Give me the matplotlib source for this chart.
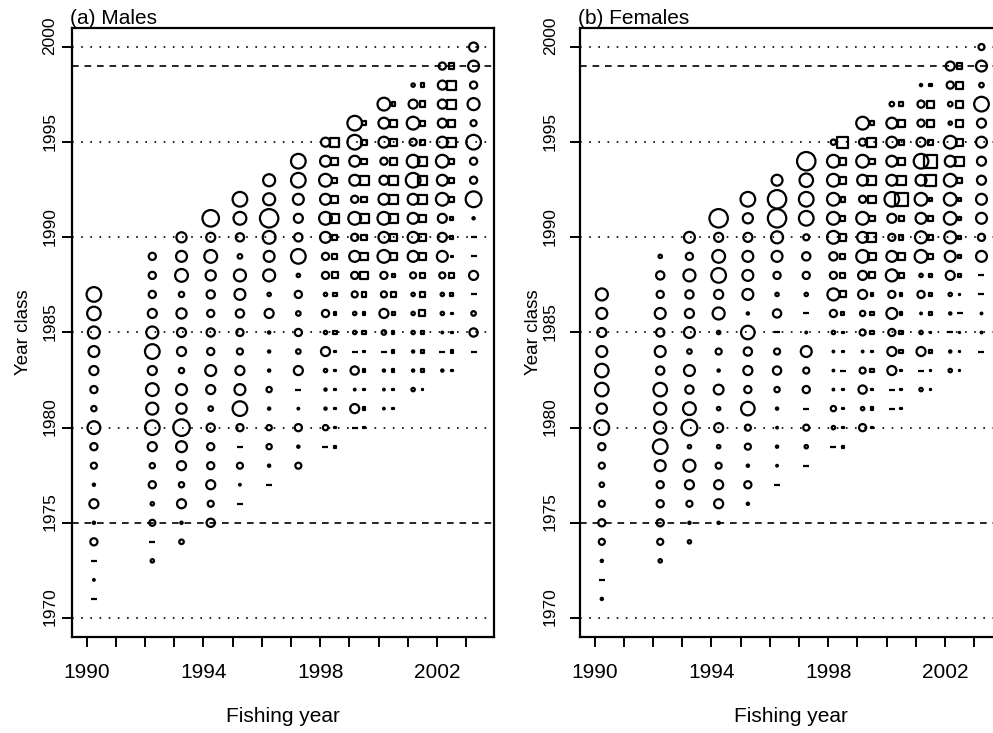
import numpy as np
import matplotlib
matplotlib.use("Agg")
import matplotlib.pyplot as plt
from matplotlib.ticker import FixedLocator, MultipleLocator
from matplotlib.transforms import ScaledTranslation

plt.rcParams["font.family"] = ["Liberation Sans", "DejaVu Sans"]

# each list runs over year classes (fishing year - 19) .. (fishing year - 3)
# values are relative symbol sizes; 1 = trace (drawn as a dash)

# Males, main sample (circles)
m_1990 = [1, 10, 1, 25, 12, 30, 12, 22, 25, 40, 20, 25, 30, 35, 38, 42, 45]
m_1992 = [15, 1, 22, 15, 25, 20, 30, 45, 38, 40, 30, 45, 38, 30, 25, 25, 25]
m_1993 = [18, 12, 30, 20, 30, 35, 50, 33, 35, 20, 30, 30, 33, 20, 40, 35, 33]
m_1994 = [28, 22, 30, 25, 25, 28, 18, 30, 35, 25, 28, 25, 28, 33, 40, 30, 50]
m_1995 = [1, 10, 22, 1, 25, 45, 35, 30, 22, 25, 28, 35, 38, 18, 28, 40, 45]
m_1996 = [1, 12, 20, 20, 12, 20, 12, 12, 12, 30, 15, 38, 35, 40, 55, 38, 38]
m_1997 = [22, 12, 25, 10, 1, 30, 18, 25, 18, 25, 15, 45, 28, 30, 35, 45, 45]
m_1998 = [1, 20, 12, 12, 15, 30, 15, 25, 15, 25, 25, 35, 40, 35, 40, 35, 30]
m_1999 = [1, 30, 10, 28, 1, 15, 15, 22, 25, 35, 25, 40, 25, 35, 35, 45, 45]
m_2000 = [10, 10, 12, 1, 18, 30, 22, 25, 40, 35, 40, 35, 30, 25, 35, 35, 40]
m_2001 = [15, 12, 12, 15, 15, 15, 22, 35, 35, 35, 35, 45, 40, 25, 40, 30, 15]
m_2002 = [12, 1, 10, 15, 15, 22, 35, 30, 30, 40, 35, 40, 35, 30, 30, 30, 25]
m_2003 = [1, 28, 18, 1, 30, 1, 1, 12, 48, 25, 25, 45, 22, 38, 25, 35, 30]

# Males, second sample (squares)
ms_1998 = [5, 5, 10, 10, 10, 10, 15, 12, 15, 22, 20, 20, 30, 25, 20, 25, 30]
ms_1999 = [10, 12, 10, 12, 10, 15, 12, 18, 25, 25, 20, 30, 20, 30, 20, 20, 15]
ms_2000 = [10, 10, 12, 12, 12, 15, 18, 15, 25, 25, 30, 30, 30, 25, 25, 25, 15]
ms_2001 = [10, 12, 12, 15, 22, 20, 18, 25, 25, 25, 30, 30, 30, 20, 20, 20, 15]
ms_2002 = [10, 12, 8, 8, 15, 18, 8, 15, 15, 20, 20, 20, 30, 25, 30, 30, 20]

# Females, main sample (circles)
f_1990 = [12, 1, 12, 22, 25, 22, 18, 22, 25, 45, 33, 42, 42, 35, 30, 35, 38]
f_1992 = [15, 22, 25, 25, 25, 35, 45, 38, 38, 42, 28, 35, 28, 35, 25, 28, 15]
f_1993 = [15, 12, 22, 30, 38, 15, 48, 40, 28, 35, 18, 35, 30, 28, 38, 25, 35]
f_1994 = [12, 30, 30, 22, 15, 30, 15, 32, 12, 22, 15, 38, 30, 45, 40, 30, 55]
f_1995 = [12, 25, 12, 22, 22, 42, 25, 30, 28, 42, 12, 35, 35, 35, 30, 33, 45]
f_1996 = [1, 10, 12, 8, 12, 20, 28, 22, 1, 28, 15, 25, 35, 38, 55, 55, 35]
f_1997 = [1, 15, 22, 1, 25, 22, 35, 8, 1, 15, 25, 28, 22, 45, 45, 42, 55]
f_1998 = [1, 15, 20, 10, 10, 10, 15, 25, 38, 25, 28, 40, 40, 40, 40, 40, 20]
f_1999 = [25, 15, 28, 22, 10, 22, 20, 30, 30, 40, 35, 40, 25, 35, 40, 25, 40]
f_2000 = [1, 1, 30, 30, 25, 35, 25, 38, 35, 25, 30, 45, 35, 35, 35, 35, 18]
f_2001 = [15, 1, 30, 15, 10, 25, 15, 40, 38, 35, 40, 35, 45, 30, 25, 25, 12]
f_2002 = [15, 12, 1, 12, 15, 30, 35, 38, 40, 40, 40, 35, 40, 15, 18, 25, 30]
f_2003 = [1, 10, 10, 1, 1, 35, 25, 35, 35, 30, 30, 35, 30, 45, 18, 35, 22]

# Females, second sample (squares)
fs_1998 = [5, 10, 10, 10, 1, 10, 10, 15, 22, 20, 20, 25, 20, 18, 25, 25, 35]
fs_1999 = [10, 12, 10, 15, 10, 15, 15, 12, 22, 25, 30, 20, 25, 30, 20, 30, 15]
fs_2000 = [8, 8, 10, 15, 15, 12, 12, 20, 25, 18, 20, 40, 30, 25, 20, 25, 15]
fs_2001 = [8, 8, 12, 10, 12, 12, 15, 20, 20, 20, 15, 35, 40, 20, 25, 25, 12]
fs_2002 = [8, 10, 8, 1, 10, 12, 12, 15, 15, 15, 20, 30, 25, 25, 25, 25, 20]

circle_years = [1990, 1992, 1993, 1994, 1995, 1996, 1997,
                1998, 1999, 2000, 2001, 2002, 2003]
square_years = [1998, 1999, 2000, 2001, 2002]

males = dict(zip(circle_years, [m_1990, m_1992, m_1993, m_1994, m_1995, m_1996, m_1997,
                                m_1998, m_1999, m_2000, m_2001, m_2002, m_2003]))
males_sq = dict(zip(square_years, [ms_1998, ms_1999, ms_2000, ms_2001, ms_2002]))
females = dict(zip(circle_years, [f_1990, f_1992, f_1993, f_1994, f_1995, f_1996, f_1997,
                                  f_1998, f_1999, f_2000, f_2001, f_2002, f_2003]))
females_sq = dict(zip(square_years, [fs_1998, fs_1999, fs_2000, fs_2001, fs_2002]))

LW = 1.6


def marker_area(vals):
    # symbol diameter in points, stroke included
    d = np.asarray(vals, float) * 0.27 - LW
    return np.maximum(d, 1.2) ** 2


def plot_symbols(ax, fy, vals, x, marker):
    vals = np.asarray(vals)
    yc = np.arange(fy - 19, fy - 2)
    big = vals > 1
    ax.scatter(np.full(big.sum(), x), yc[big], s=marker_area(vals[big]), marker=marker,
               facecolors="none", edgecolors="black", linewidths=LW, zorder=3)
    if (~big).any():
        ax.scatter(np.full((~big).sum(), x), yc[~big], s=16, marker="_",
                   color="black", linewidths=LW, zorder=3)


def draw_panel(ax, circles, squares, title, tick_pad, label_x):
    for y in [1970, 1980, 1985, 1990, 1995, 2000]:
        ax.axhline(y, color="black", lw=1.2, ls=(0, (1, 4.5)), zorder=1)
    for y in [1975, 1999]:
        ax.axhline(y, color="black", lw=1.2, ls=(0, (4, 3.5)), zorder=1)

    for fy, vals in circles.items():
        off = 0.18 if fy in squares else 0.25
        plot_symbols(ax, fy, vals, fy + off, "o")
    for fy, vals in squares.items():
        plot_symbols(ax, fy, vals, fy + 0.5, "s")

    ax.set_xlim(1989.5, 2003.95)
    ax.set_ylim(1969.0, 2001.0)
    ax.xaxis.set_major_locator(FixedLocator([1990, 1994, 1998, 2002]))
    ax.xaxis.set_minor_locator(MultipleLocator(1))
    ax.set_yticks([1970, 1975, 1980, 1985, 1990, 1995, 2000])
    ax.tick_params(axis="x", which="both", length=7, width=1.4, pad=12, labelsize=15)
    ax.tick_params(axis="y", length=7, width=1.4, pad=tick_pad, labelsize=12.5,
                   labelrotation=90)
    # vertical labels sit a little above their ticks
    shift = ScaledTranslation(0, 8 / 72, ax.figure.dpi_scale_trans)
    for tick in ax.yaxis.get_major_ticks():
        tick.label1.set_va("center")
        tick.label1.set_transform(tick.label1.get_transform() + shift)
    for s in ax.spines.values():
        s.set_linewidth(1.6)

    ax.set_xlabel("Fishing year", fontsize=15, labelpad=18)
    ax.set_ylabel("Year class", fontsize=13.5)
    ax.yaxis.set_label_coords(label_x, 0.5)
    ax.set_title(title, loc="left", fontsize=15, pad=2, x=-0.005)


fig = plt.figure(figsize=(9.93, 7.33), dpi=100)
ax1 = fig.add_axes([0.0725, 0.131, 0.425, 0.8308])
ax2 = fig.add_axes([0.584, 0.131, 0.425, 0.8308])

draw_panel(ax1, males, males_sq, "(a) Males", 3.5, -0.095)
draw_panel(ax2, females, females_sq, "(b) Females", 9, -0.09)

fig.savefig("out.png", dpi=100)
